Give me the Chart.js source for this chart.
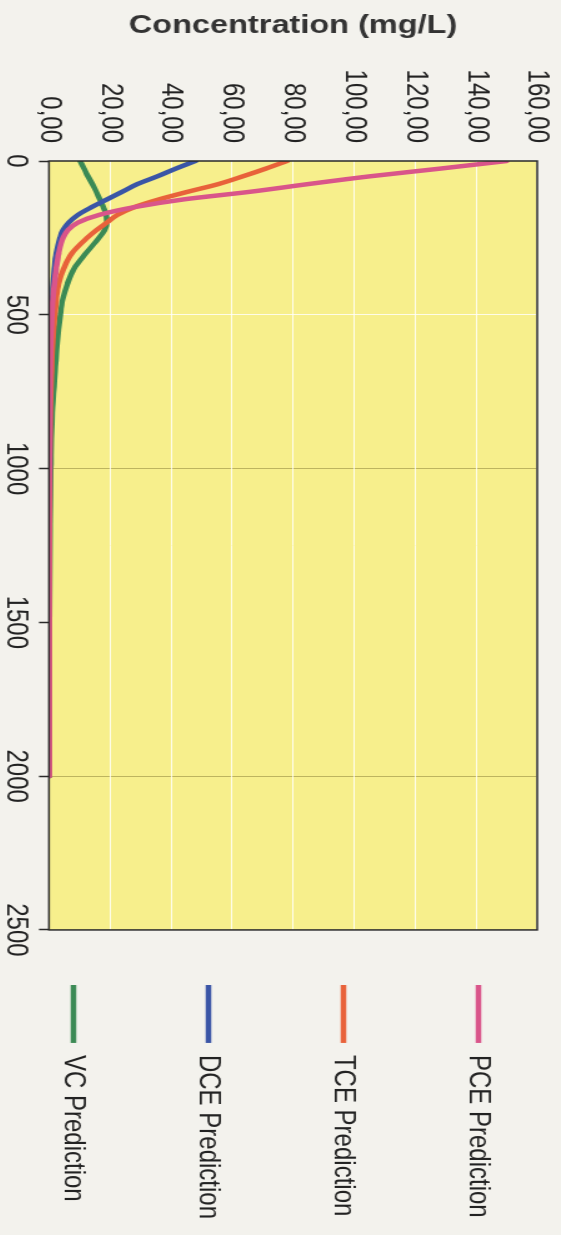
<!DOCTYPE html>
<html>
<head>
<meta charset="utf-8">
<script src="https://cdn.jsdelivr.net/npm/chart.js@4.4.0/dist/chart.umd.min.js"></script>
<style>
  html, body { margin: 0; padding: 0; background: #f3f2ed; width: 561px; height: 1235px; overflow: hidden; }
  #wrap { position: absolute; left: 0; top: 0; width: 1235px; height: 449px;
          transform-origin: 0 0; transform: translateX(561px) rotate(90deg) scaleY(1.25); }
  canvas { display: block; }
</style>
</head>
<body>
<div id="wrap"><canvas id="c" width="1235" height="449"></canvas></div>
<script>
// ---- data (distance along x, concentration in mg/L) ----
const distances = [0, 25, 50, 75, 100, 125, 150, 175, 200, 225, 250, 300, 350, 400, 450, 500, 600, 700, 800, 1000, 1200, 1500, 2000];
const pcePrediction = [150, 128, 105, 85, 66, 44, 28, 16.5, 9.5, 6.2, 4.6, 3.2, 2.4, 1.8, 1.3, 1.0, 0.6, 0.35, 0.2, 0.1, 0.05, 0.02, 0];
const tcePrediction = [78, 71, 63.5, 55.5, 45.5, 36, 28, 22.5, 19, 15.5, 12.5, 7.5, 4.8, 3.1, 2.4, 1.9, 1.2, 0.8, 0.5, 0.25, 0.12, 0.05, 0];
const dcePrediction = [48, 41.5, 35.5, 29, 24, 19, 14, 9.5, 6.5, 4.6, 3.6, 2.4, 1.8, 1.4, 1.2, 1.0, 0.7, 0.5, 0.35, 0.2, 0.1, 0.05, 0];
const vcPrediction = [10.2, 11.5, 12.8, 14.2, 15.5, 16.7, 17.8, 18.8, 19, 18.2, 16.4, 12.1, 8.2, 6, 4.5, 3.7, 2.6, 1.9, 1.2, 0.6, 0.35, 0.15, 0.05];
const seriesNames = ['PCE Prediction', 'TCE Prediction', 'DCE Prediction', 'VC Prediction'];
const distanceTicks = [0, 500, 1000, 1500, 2000, 2500];
const concentrationTicks = [0, 20, 40, 60, 80, 100, 120, 140, 160];
const yTitle = 'Concentration (mg/L)';

// ---- styles ----
const colors = ['#d9558a', '#e8623a', '#3a55a6', '#3b8a55'];
const FONT = "'Liberation Sans', Arial, sans-serif";
const PLOT_BG = '#f7ef8c';

const seriesValues = [pcePrediction, tcePrediction, dcePrediction, vcPrediction];
const datasets = seriesValues.map((vals, i) => ({
  label: seriesNames[i],
  data: distances.map((d, j) => ({ x: d, y: vals[j] })),
  borderColor: colors[i],
  backgroundColor: colors[i],
  borderWidth: 4.5,
  borderCapStyle: 'round',
  pointRadius: 0,
  pointStyle: 'line',
  fill: false,
  cubicInterpolationMode: 'monotone'
}));

const framePlugin = {
  id: 'frame',
  beforeDraw(chart) {
    const { ctx, chartArea: a } = chart;
    ctx.save();
    ctx.fillStyle = PLOT_BG;
    ctx.fillRect(a.left, a.top, a.right - a.left, a.bottom - a.top);
    ctx.restore();
  },
  afterDatasetsDraw(chart) {
    const { ctx, chartArea: a } = chart;
    ctx.save();
    ctx.strokeStyle = '#2a2a2a';
    ctx.lineWidth = 1.5;
    ctx.strokeRect(a.left, a.top, a.right - a.left, a.bottom - a.top);
    ctx.restore();
  }
};

new Chart(document.getElementById('c'), {
  type: 'line',
  data: { datasets },
  plugins: [framePlugin],
  options: {
    responsive: false,
    animation: false,
    layout: { padding: { top: 19, left: 6, right: 6, bottom: 0 } },
    scales: {
      x: {
        type: 'linear',
        position: 'bottom',
        min: distanceTicks[0],
        max: distanceTicks[distanceTicks.length - 1],
        afterBuildTicks: s => { s.ticks = distanceTicks.map(v => ({ value: v })); },
        afterFit: s => { s.height = 39.4; },
        border: { display: false },
        grid: {
          drawOnChartArea: true,
          drawTicks: true,
          tickLength: 8,
          tickColor: '#2a2a2a',
          tickWidth: 1.5,
          lineWidth: 1,
          color: c => {
            const v = c.tick && c.tick.value;
            if (v === 1000 || v === 2000) return 'rgba(170,160,80,0.75)';
            if (v === 500) return 'rgba(255,255,255,0.8)';
            return 'rgba(0,0,0,0)';
          }
        },
        ticks: { color: '#222', font: { family: FONT, size: 24 }, padding: 4, maxRotation: 0,
                 callback: v => String(v) }
      },
      y: {
        type: 'linear',
        position: 'left',
        min: concentrationTicks[0],
        max: concentrationTicks[concentrationTicks.length - 1],
        afterBuildTicks: s => { s.ticks = concentrationTicks.map(v => ({ value: v })); },
        afterFit: s => { s.width = 155; s.paddingTop = 0; s.paddingBottom = 0; },
        border: { display: false },
        grid: { drawTicks: false, color: 'rgba(255,255,255,0.85)', lineWidth: 1 },
        ticks: {
          color: '#222',
          font: { family: FONT, size: 24 },
          padding: 18,
          callback: v => v.toFixed(2).replace('.', ',')
        },
        title: {
          display: true,
          text: yTitle,
          color: '#333',
          font: { family: FONT, size: 26, weight: 'bold' },
          padding: { top: 4, bottom: 4 }
        }
      },
      gap: {
        type: 'linear',
        position: 'right',
        display: false,
        min: 0, max: 1,
        grid: { display: false, drawTicks: false },
        border: { display: false },
        ticks: { display: false },
        afterFit: s => { s.width = 55; s.paddingTop = 0; s.paddingBottom = 0; }
      }
    },
    plugins: {
      tooltip: { enabled: false },
      legend: {
        display: true,
        position: 'right',
        align: 'center',
        labels: {
          usePointStyle: true,
          pointStyle: 'line',
          pointStyleWidth: 58,
          padding: 0,
          color: '#222',
          font: { family: FONT, size: 24, lineHeight: '36px' },
          generateLabels: chart => {
            const items = Chart.defaults.plugins.legend.labels.generateLabels(chart);
            items.forEach((it, i) => {
              it.text = (i < items.length - 1) ? [it.text, '', ''] : [it.text];
            });
            return items;
          }
        }
      }
    }
  }
});
</script>
</body>
</html>
